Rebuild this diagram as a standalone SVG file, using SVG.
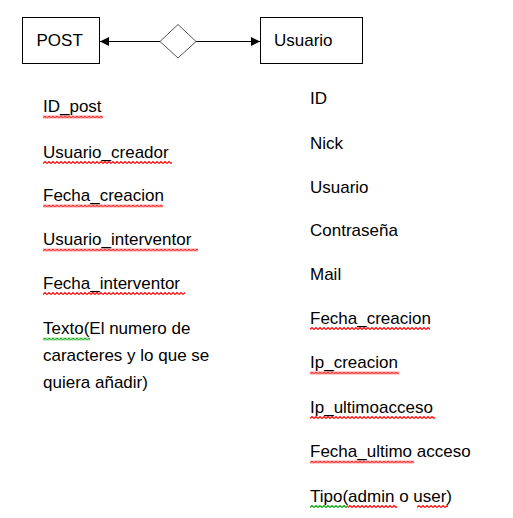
<svg xmlns="http://www.w3.org/2000/svg" width="513" height="518" viewBox="0 0 513 518">
<style>
.box{fill:#fff;stroke:#000;stroke-width:1}
.t{font-family:"Liberation Sans",Arial,sans-serif;font-size:17px;fill:#000}
.ln{stroke:#000;stroke-width:1.2;fill:none}
.sqr{fill:url(#sqR)}
.sqg{fill:url(#sqG)}
</style>
<defs>
<pattern id="sqR" patternUnits="userSpaceOnUse" width="4" height="3">
<path d="M0,2.5 L2,0.5 L4,2.5" fill="none" stroke="#ff0000" stroke-width="1.1"/>
</pattern>
<pattern id="sqG" patternUnits="userSpaceOnUse" width="4" height="3">
<path d="M0,2.5 L2,0.5 L4,2.5" fill="none" stroke="#00a000" stroke-width="1.1"/>
</pattern>
<marker id="arr" viewBox="0 0 10 10" refX="10" refY="5" markerWidth="10" markerHeight="9" markerUnits="userSpaceOnUse" orient="auto-start-reverse">
<path d="M0,0 L10,5 L0,10 Z" fill="#000"/>
</marker>
</defs>
<rect width="513" height="518" fill="#fff"/>

<g id="connectors">
<line class="ln" x1="160" y1="41.5" x2="100" y2="41.5" marker-end="url(#arr)"/>
<line class="ln" x1="196" y1="41.5" x2="260" y2="41.5" marker-end="url(#arr)"/>
</g>

<g id="node-post">
<rect class="box" x="22.5" y="17.5" width="77" height="46"/>
<text class="t" x="36.5" y="46">POST</text>
</g>

<g id="node-rel">
<polygon points="178,24.5 196,41.5 178,58 160,41.5" fill="#fff" stroke="#555" stroke-width="1"/>
</g>

<g id="node-usuario">
<rect class="box" x="260.5" y="17.5" width="102" height="46"/>
<text class="t" x="274" y="46">Usuario</text>
</g>

<g id="post-attrs">
<text class="t" x="43" y="112">ID_post</text>
<text class="t" x="43" y="157.5">Usuario_creador</text>
<text class="t" x="43" y="201">Fecha_creacion</text>
<text class="t" x="43" y="245">Usuario_interventor</text>
<text class="t" x="43" y="288.5">Fecha_interventor</text>
<text class="t" x="43" y="334">Texto(El numero de</text>
<text class="t" x="43" y="361">caracteres y lo que se</text>
<text class="t" x="43" y="388">quiera añadir)</text>
<rect class="sqr" transform="translate(43,115.5)" width="60" height="3"/>
<rect class="sqr" transform="translate(43,161)" width="129" height="3"/>
<rect class="sqr" transform="translate(43,204.5)" width="120" height="3"/>
<rect class="sqr" transform="translate(43,248.5)" width="155" height="3"/>
<rect class="sqr" transform="translate(43,292)" width="142" height="3"/>
<rect class="sqg" transform="translate(43,337.5)" width="47" height="3"/>
</g>

<g id="usuario-attrs">
<text class="t" x="310" y="103.5">ID</text>
<text class="t" x="310" y="149">Nick</text>
<text class="t" x="310" y="193">Usuario</text>
<text class="t" x="310" y="236">Contraseña</text>
<text class="t" x="310" y="280">Mail</text>
<text class="t" x="310" y="323.5">Fecha_creacion</text>
<text class="t" x="310" y="368">Ip_creacion</text>
<text class="t" x="310" y="412.5">Ip_ultimoacceso</text>
<text class="t" x="310" y="457">Fecha_ultimo acceso</text>
<text class="t" x="310" y="501.5">Tipo(admin o user)</text>
<rect class="sqr" transform="translate(310,327)" width="120" height="3"/>
<rect class="sqr" transform="translate(310,371.5)" width="89" height="3"/>
<rect class="sqr" transform="translate(310,416)" width="125" height="3"/>
<rect class="sqr" transform="translate(310,460.5)" width="104" height="3"/>
<rect class="sqg" transform="translate(310,505)" width="38" height="3"/>
<rect class="sqr" transform="translate(348,505)" width="49" height="3"/>
<rect class="sqr" transform="translate(417,505)" width="31" height="3"/>
</g>
</svg>
